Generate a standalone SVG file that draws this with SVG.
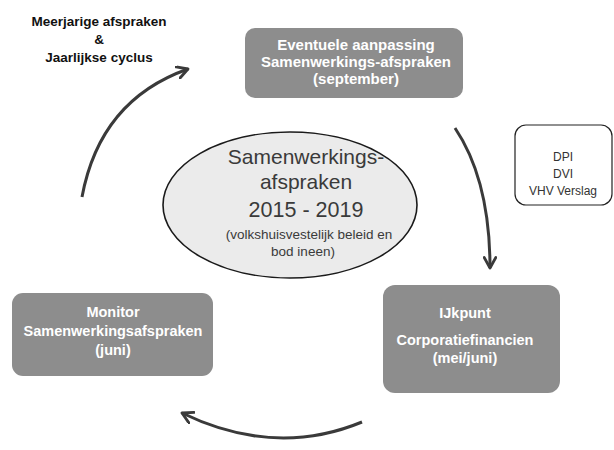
<svg xmlns="http://www.w3.org/2000/svg" width="614" height="450" viewBox="0 0 614 450">
  <style>
    .box { fill: #8d8d8d; }
    .boxtxt { font-family: "Liberation Sans", Arial, sans-serif; font-weight: bold; fill: #ffffff; text-anchor: middle; }
    .title { font-family: "Liberation Sans", Arial, sans-serif; font-weight: bold; font-size: 13.5px; fill: #111111; text-anchor: middle; }
    .ell { fill: #ebebeb; stroke: #1a1a1a; stroke-width: 1.6; }
    .elltxt { font-family: "Liberation Sans", Arial, sans-serif; fill: #3a3a3a; text-anchor: middle; }
    .note { fill: #ffffff; stroke: #222222; stroke-width: 1.2; }
    .notetxt { font-family: "Liberation Sans", Arial, sans-serif; font-size: 12px; fill: #333333; text-anchor: middle; }
    .arrow { fill: none; stroke: #3a3a3a; stroke-width: 3; marker-end: url(#head); }
  </style>
  <defs>
    <marker id="head" viewBox="0 0 12 12" refX="10" refY="6" markerWidth="14" markerHeight="14" markerUnits="userSpaceOnUse" orient="auto">
      <path d="M1 1 L10 6 L1 11" fill="none" stroke="#3a3a3a" stroke-width="2.4" stroke-linecap="round" stroke-linejoin="round"/>
    </marker>
  </defs>

  <g id="title">
    <text class="title" x="99" y="26">Meerjarige afspraken</text>
    <text class="title" x="99" y="44">&amp;</text>
    <text class="title" x="99" y="62">Jaarlijkse cyclus</text>
  </g>

  <g id="aanpassing">
    <rect class="box" x="245" y="28" width="218" height="70" rx="10"/>
    <text class="boxtxt" font-size="15" x="356" y="50">Eventuele aanpassing</text>
    <text class="boxtxt" font-size="15" x="356" y="67">Samenwerkings-afspraken</text>
    <text class="boxtxt" font-size="15" x="356" y="84">(september)</text>
  </g>

  <g id="centrum">
    <ellipse class="ell" cx="290" cy="205" rx="127" ry="73"/>
    <text class="elltxt" font-size="21" x="306" y="164">Samenwerkings-</text>
    <text class="elltxt" font-size="21" x="306" y="189">afspraken</text>
    <text class="elltxt" font-size="21.5" x="306" y="217">2015 - 2019</text>
    <text class="elltxt" font-size="13.5" x="309" y="239">(volkshuisvestelijk beleid en</text>
    <text class="elltxt" font-size="13.5" x="303" y="256">bod ineen)</text>
  </g>

  <g id="rapportages">
    <rect class="note" x="515" y="125" width="97" height="80" rx="11"/>
    <text class="notetxt" x="563" y="161">DPI</text>
    <text class="notetxt" x="563" y="178">DVI</text>
    <text class="notetxt" x="563" y="195">VHV Verslag</text>
  </g>

  <g id="ijkpunt">
    <rect class="box" x="383" y="285" width="177" height="108" rx="12"/>
    <text class="boxtxt" font-size="14.5" x="465" y="318">IJkpunt</text>
    <text class="boxtxt" font-size="14.5" x="465" y="345">Corporatiefinancien</text>
    <text class="boxtxt" font-size="14.5" x="465" y="363">(mei/juni)</text>
  </g>

  <g id="monitor">
    <rect class="box" x="12" y="293" width="201" height="83" rx="11"/>
    <text class="boxtxt" font-size="14.5" x="113" y="317">Monitor</text>
    <text class="boxtxt" font-size="14.5" x="113" y="336">Samenwerkingsafspraken</text>
    <text class="boxtxt" font-size="14.5" x="113" y="355">(juni)</text>
  </g>

  <g id="connectors">
    <path class="arrow" d="M82 197 Q100 100 188 69"/>
    <path class="arrow" d="M455 128 Q490 180 490 268"/>
    <path class="arrow" d="M362 422 Q275 458 182 413"/>
  </g>
</svg>
